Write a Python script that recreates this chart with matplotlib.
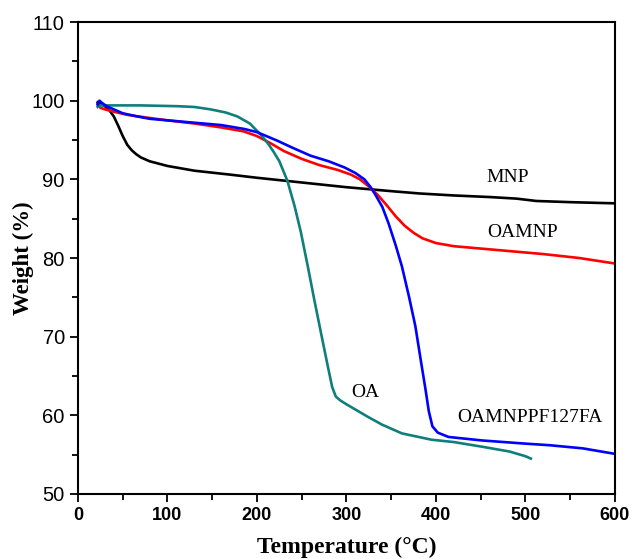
import matplotlib.pyplot as plt
from matplotlib.ticker import MultipleLocator

# MNP (black)
mnp_t = [22, 25, 30, 35, 40, 45, 50, 55, 60, 65, 70, 80, 100, 130, 170, 200, 250, 300,
         350, 382, 420, 460, 490, 512, 550, 600]
mnp_w = [99.8, 99.6, 99.3, 98.8, 98.0, 96.8, 95.5, 94.4, 93.7, 93.2, 92.8, 92.3, 91.7,
         91.1, 90.6, 90.2, 89.6, 89.0, 88.5, 88.2, 87.95, 87.75, 87.55, 87.25, 87.1, 86.95]

# OAMNP (red)
oamnp_t = [22, 25, 30, 40, 55, 80, 100, 130, 160, 185, 200, 215, 230, 250, 270, 290, 305,
           315, 325, 335, 345, 355, 365, 375, 385, 400, 420, 450, 480, 520, 560, 600]
oamnp_w = [99.6, 99.1, 98.9, 98.6, 98.2, 97.8, 97.5, 97.1, 96.6, 96.1, 95.5, 94.6, 93.6,
           92.6, 91.8, 91.2, 90.6, 90.0, 89.1, 88.0, 86.7, 85.3, 84.1, 83.2, 82.5, 81.9,
           81.5, 81.2, 80.9, 80.5, 80.0, 79.3]

# OAMNPPF127FA (blue)
fa_t = [22, 24, 27, 32, 40, 50, 66, 80, 100, 130, 160, 186, 200, 223, 240, 260, 280, 298,
        310, 320, 327, 332, 340, 347, 355, 362, 370, 377, 383, 388, 392, 396, 402, 414,
        452, 500, 527, 564, 600]
fa_w = [99.5, 100.0, 99.7, 99.3, 98.9, 98.4, 98.0, 97.7, 97.5, 97.2, 96.9, 96.4, 96.0,
        94.9, 94.0, 93.0, 92.3, 91.5, 90.8, 90.0, 89.0, 88.1, 86.5, 84.4, 81.6, 78.9,
        75.0, 71.3, 67.0, 63.5, 60.5, 58.6, 57.8, 57.25, 56.8, 56.4, 56.2, 55.8, 55.1]

# OA (teal)
oa_t = [22, 25, 40, 70, 111, 130, 148, 165, 178, 192, 204, 212, 218, 225, 234, 242, 249,
        257, 264, 272, 279, 284, 288, 293, 300, 312, 324, 340, 362, 395, 420, 452, 482,
        500, 506]
oa_w = [99.2, 99.4, 99.4, 99.4, 99.3, 99.2, 98.9, 98.5, 98.0, 97.1, 95.7, 94.6, 93.6,
        92.3, 89.8, 86.6, 83.3, 78.8, 74.7, 70.2, 66.3, 63.6, 62.4, 61.9, 61.4, 60.6,
        59.8, 58.8, 57.7, 56.9, 56.6, 56.0, 55.4, 54.8, 54.5]

labels = ['MNP', 'OAMNP', 'OAMNPPF127FA', 'OA']
label_pos = [(480, 90.2), (497, 83.3), (505, 59.7), (321, 62.9)]

fig = plt.figure(figsize=(6.32, 5.59), dpi=100)
ax = fig.add_axes([0.1234, 0.1163, 0.8497, 0.8443])

lw = 1.9
ax.plot(mnp_t, mnp_w, color='black', lw=lw)
ax.plot(oamnp_t, oamnp_w, color='#ff0000', lw=lw)
ax.plot(oa_t, oa_w, color='#0f7f7c', lw=lw)
ax.plot(fa_t, fa_w, color='#0000ff', lw=lw)

for lab, (x, y) in zip(labels, label_pos):
    ax.text(x, y, lab, ha='center', va='center', fontsize=14,
            family='Liberation Serif')

ax.set_xlim(0, 600)
ax.set_ylim(50, 110)
ax.xaxis.set_major_locator(MultipleLocator(100))
ax.xaxis.set_minor_locator(MultipleLocator(50))
ax.yaxis.set_major_locator(MultipleLocator(10))
ax.yaxis.set_minor_locator(MultipleLocator(5))
ax.tick_params(which='major', direction='out', length=6, width=1.3)
ax.tick_params(which='minor', direction='out', length=4, width=1.3)
for s in ax.spines.values():
    s.set_linewidth(1.5)

for t in ax.get_xticklabels():
    t.set_fontfamily('Liberation Sans')
    t.set_fontweight('bold')
    t.set_fontsize(13)
for t in ax.get_yticklabels():
    t.set_fontfamily('Liberation Sans')
    t.set_fontsize(14.5)

ax.set_xlabel('Temperature (\u00b0C)', fontsize=17, fontweight='bold',
              family='Liberation Serif', labelpad=9)
ax.set_ylabel('Weight (%)', fontsize=16.5, fontweight='bold',
              family='Liberation Serif', labelpad=-2)

fig.savefig('out.png', dpi=100)
